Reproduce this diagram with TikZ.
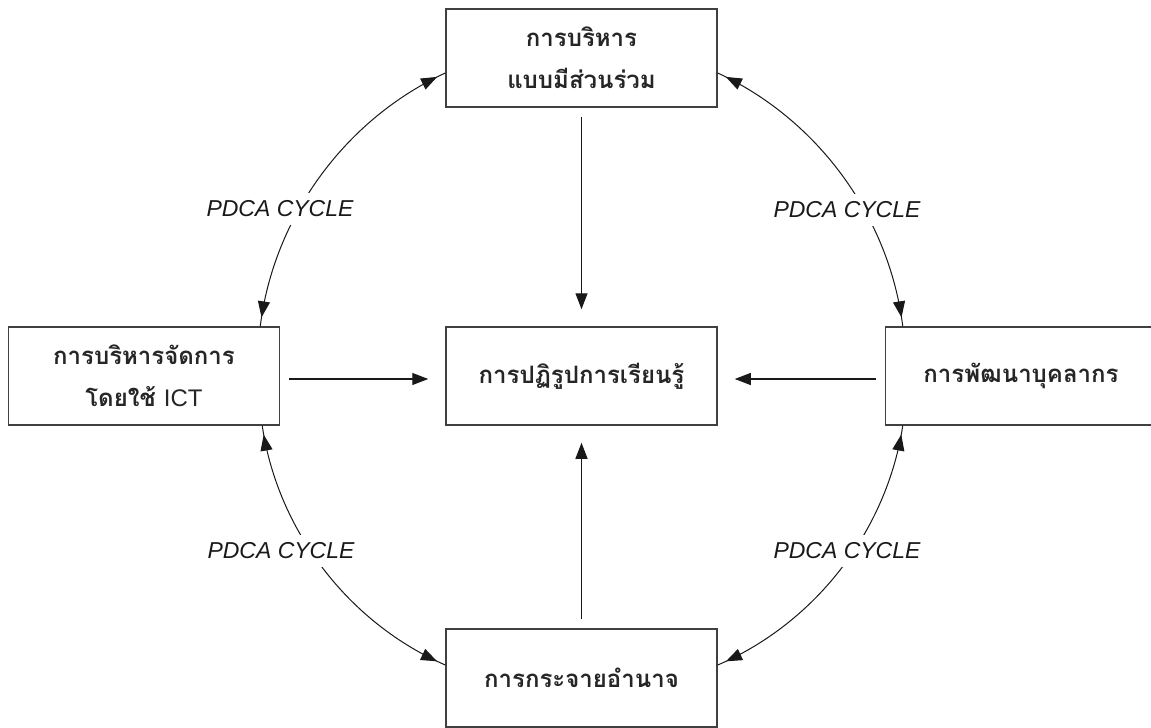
\documentclass[tikz,border=0pt]{standalone}
\usepackage{fontspec}
\newfontfamily\thai[Script=Thai]{Loma}
\newfontfamily\lat{Liberation Sans}
\usetikzlibrary{arrows.meta,decorations.markings}

\tikzset{
  box/.style={draw=black!75, line width=1.5pt, minimum width=271pt,
    minimum height=98pt, inner sep=0pt, align=center,
    font=\thai\bfseries\fontsize{24pt}{42pt}\selectfont, text=black!85},
  link/.style={line width=1.1pt, draw=black!90,
    -{Triangle[length=16pt,width=12pt]}, shorten <=9pt, shorten >=17pt},
  cycarc/.style={line width=1pt, draw=black!90, looseness=0.9,
    postaction={decorate, decoration={markings,
      mark=at position 9pt with {\arrowreversed{Triangle[length=16pt,width=12pt]}},
      mark=at position -9pt with {\arrow{Triangle[length=16pt,width=12pt]}}}}},
  pdca/.style={fill=white, inner sep=8pt, text=black!90,
    font=\lat\itshape\fontsize{23pt}{28pt}\selectfont}
}

\begin{document}
\begin{tikzpicture}[x=1pt, y=-1pt]
  \useasboundingbox[fill=white] (0,0) rectangle (1151,728);

  % the five boxes
  \node[box] (T) at (581.5,58)  {การบริหาร\\แบบมีส่วนร่วม};
  \node[box] (L) at (144,376)   {การบริหารจัดการ\\โดยใช้ {\lat\mdseries ICT}};
  \node[box] (C) at (581.5,376) {การปฏิรูปการเรียนรู้};
  \node[box] (R) at (1021,376)  {การพัฒนาบุคลากร};
  \node[box] (B) at (581.5,678) {การกระจายอำนาจ};

  % straight arrows into the centre
  \draw[link] (T) -- (C);
  \draw[link] (B) -- (C);
  \draw[link] ([yshift=-3pt]L.east) -- ([yshift=-3pt]C.west);
  \draw[link] ([yshift=-3pt]R.west) -- ([yshift=-3pt]C.east);

  % the PDCA cycle arcs round the outer boxes
  \draw[cycarc] ([xshift=-20pt]L.north east) to[bend left=29] ([yshift=-15pt]T.west);
  \draw[cycarc] ([yshift=-15pt]T.east) to[bend left=29] ([xshift=18pt]R.north west);
  \draw[cycarc] ([xshift=-18pt]L.south east) to[bend right=29] ([yshift=13pt]B.west);
  \draw[cycarc] ([yshift=13pt]B.east) to[bend right=29] ([xshift=18pt]R.south west);

  % cycle labels, masking the arcs behind them
  \node[pdca] (p1) at (280,209) {PDCA CYCLE};
  \node[pdca] (p2) at (847,210) {PDCA CYCLE};
  \node[pdca] (p3) at (281,551) {PDCA CYCLE};
  \node[pdca] (p4) at (847,551) {PDCA CYCLE};
\end{tikzpicture}
\end{document}
